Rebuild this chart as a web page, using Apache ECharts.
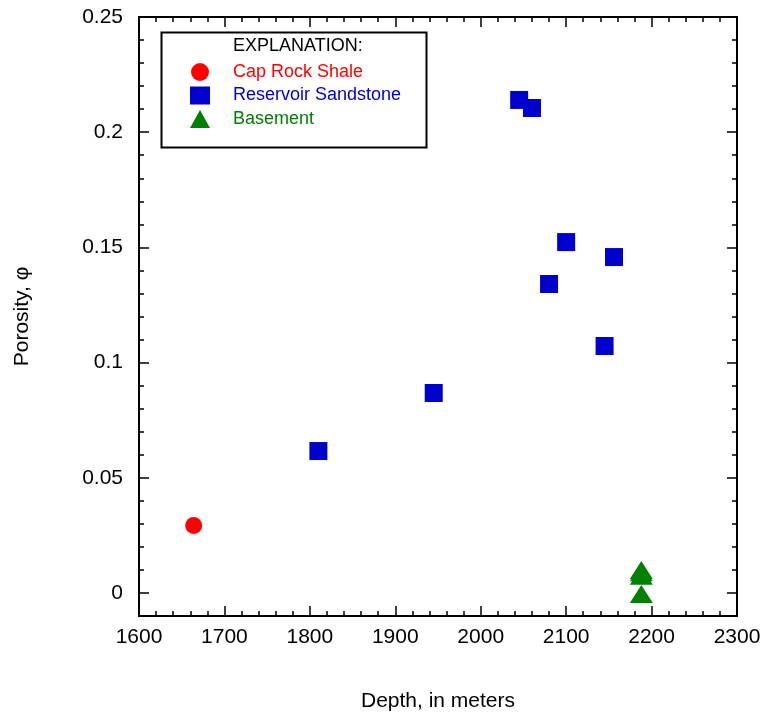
<!DOCTYPE html>
<html><head><meta charset="utf-8">
<script src="https://cdn.jsdelivr.net/npm/echarts@6/dist/echarts.min.js"></script>
<style>html,body{margin:0;padding:0;background:#fff}#c{width:765px;height:717px}</style>
</head><body><div id="c"></div>
<script>
const capRockDepth = [1664];
const capRockPorosity = [0.0293];
const sandstoneDepth = [1810, 1945, 2045, 2060, 2100, 2080, 2156, 2145];
const sandstonePorosity = [0.0616, 0.0868, 0.2140, 0.2105, 0.1523, 0.1341, 0.1458, 0.1072];
const basementDepth = [2188, 2188, 2188, 2188];
const basementPorosity = [0.0100, 0.0090, 0.0075, -0.0005];
const seriesNames = ['Cap Rock Shale', 'Reservoir Sandstone', 'Basement'];
const seriesColors = ['#ff0000', '#0000cc', '#008000'];
const yTickLabels = [0, 0.05, 0.1, 0.15, 0.2, 0.25];
const yMinorTicks = [-0.01, 0, 0.01, 0.02, 0.03, 0.04, 0.05, 0.06, 0.07, 0.08, 0.09, 0.1, 0.11, 0.12, 0.13, 0.14, 0.15, 0.16, 0.17, 0.18, 0.19, 0.2, 0.21, 0.22, 0.23, 0.24, 0.25];
const legendTitle = 'EXPLANATION:';
const xTitle = 'Depth, in meters';
const yTitle = 'Porosity, \u03c6';

const FONT = '"Liberation Sans", Arial, Helvetica, sans-serif';
const zip = (a, b) => a.map((v, i) => [v, b[i]]);
const lineStyle = { color: '#000', width: 2 };
const tickStyle = { color: '#000', width: 1.5 };

function xAxis(pos, labels) {
  return {
    type: 'value', position: pos, min: 1600, max: 2300, interval: 100,
    axisLine: { show: true, onZero: false, lineStyle },
    axisTick: { show: true, inside: true, length: 10, lineStyle: tickStyle },
    minorTick: { show: true, splitNumber: 5, length: 5, lineStyle: tickStyle },
    splitLine: { show: false },
    axisLabel: { show: labels, fontSize: 21, color: '#000', margin: 11, fontFamily: FONT, formatter: v => String(v) },
    name: labels ? xTitle : '', nameLocation: 'middle', nameGap: 75,
    nameTextStyle: { fontSize: 21, color: '#000', fontFamily: FONT }
  };
}
function yAxis(pos, major, labels) {
  return {
    type: 'value', position: pos, min: -0.01, max: 0.25, interval: 0.01,
    axisLine: { show: major, onZero: false, lineStyle },
    axisTick: { show: true, inside: true, length: major ? 10 : 5, lineStyle: tickStyle,
      customValues: major ? yTickLabels : yMinorTicks },
    splitLine: { show: false },
    axisLabel: { show: labels, customValues: yTickLabels, fontSize: 21, color: '#000', margin: 16, fontFamily: FONT, formatter: v => String(v) },
    name: labels ? yTitle : '', nameLocation: 'middle', nameGap: 106,
    nameTextStyle: { fontSize: 21, color: '#000', fontFamily: FONT }
  };
}

const chart = echarts.init(document.getElementById('c'), null, { renderer: 'canvas' });
chart.setOption({
  animation: false,
  backgroundColor: '#fff',
  grid: { left: 139, right: 28, top: 17, bottom: 101, containLabel: false },
  xAxis: [xAxis('bottom', true), xAxis('top', false)],
  yAxis: [yAxis('left', true, true), yAxis('left', false, false), yAxis('right', true, false), yAxis('right', false, false)],
  legend: {
    orient: 'vertical', left: 190, top: 63, padding: 0, itemWidth: 20, itemHeight: 18, itemGap: 5.5,
    selectedMode: false,
    textStyle: { fontSize: 18, fontFamily: FONT, padding: [0, 0, 0, 18] },
    data: [
      { name: seriesNames[0], icon: 'circle', textStyle: { color: seriesColors[0] } },
      { name: seriesNames[1], icon: 'rect', textStyle: { color: seriesColors[1] } },
      { name: seriesNames[2], icon: 'triangle', textStyle: { color: seriesColors[2] } }
    ]
  },
  graphic: [
    { type: 'rect', left: 159, top: 30, shape: { width: 265, height: 115 }, style: { fill: 'none', stroke: '#000', lineWidth: 2 }, z: 1 },
    { type: 'text', left: 233, top: 37, style: { text: legendTitle, fontSize: 18, fill: '#000', fontFamily: FONT } }
  ],
  series: [
    { name: seriesNames[0], type: 'scatter', data: zip(capRockDepth, capRockPorosity), symbol: 'circle', symbolSize: 17, itemStyle: { color: seriesColors[0], opacity: 1 } },
    { name: seriesNames[1], type: 'scatter', data: zip(sandstoneDepth, sandstonePorosity), symbol: 'rect', symbolSize: 18, itemStyle: { color: seriesColors[1], opacity: 1 } },
    { name: seriesNames[2], type: 'scatter', data: zip(basementDepth, basementPorosity), symbol: 'triangle', symbolSize: [23, 18], itemStyle: { color: seriesColors[2], opacity: 1 } }
  ]
});
</script></body></html>
